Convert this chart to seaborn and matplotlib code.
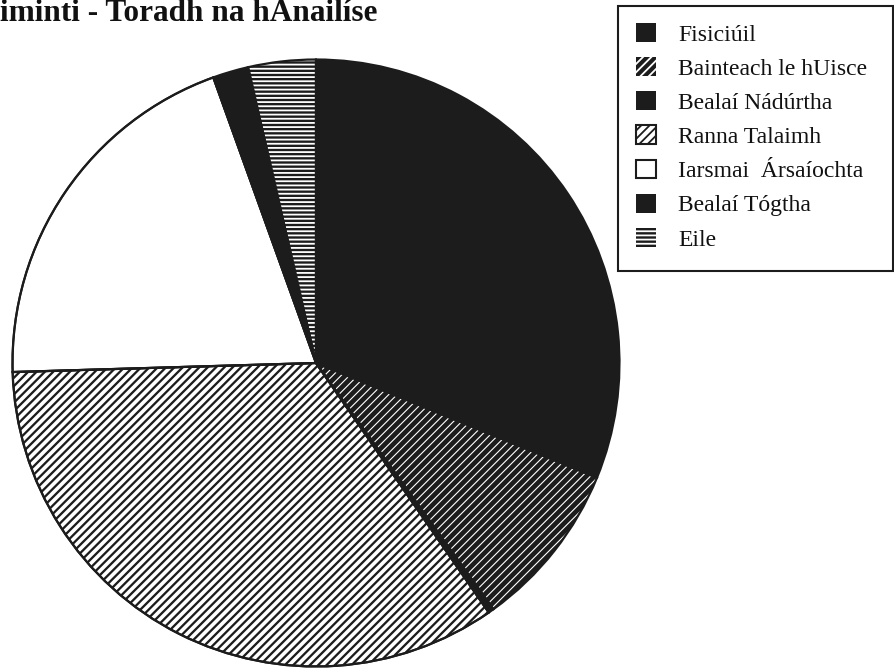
import matplotlib
matplotlib.use("Agg")
import matplotlib.pyplot as plt
import seaborn as sns
from matplotlib.patches import Rectangle

sns.set_theme(style="white")
plt.rcParams["font.family"] = ["Liberation Serif", "DejaVu Serif"]
plt.rcParams["hatch.linewidth"] = 1.3

# Share of each category (%)
categories = [
    "Fisiciúil",
    "Bainteach le hUisce",
    "Bealaí Nádúrtha",
    "Ranna Talaimh",
    "Iarsmai  Ársaíochta",
    "Bealaí Tógtha",
    "Eile",
]
shares = [31.2, 8.9, 0.3, 34.2, 20.0, 1.9, 3.6]

title_text = "iminti - Toradh na hAnailíse"

DARK = "#1c1c1c"
faces = [DARK, DARK, DARK, "white", "white", DARK, DARK]
hatch_colors = [DARK, "white", "#555555", DARK, DARK, DARK, "white"]
hatches = [None, "////", None, "////", None, None, "----"]
hatch_widths = [1.0, 0.8, 1.0, 1.65, 1.0, 1.0, 1.3]

W, H = 894, 668
fig = plt.figure(figsize=(W / 100, H / 100), dpi=100)

# Pie placement in pixels
cx, cy, r = 316, 363, 305
ax = fig.add_axes([(cx - r) / W, (H - cy - r) / H, 2 * r / W, 2 * r / H])

wedges, _ = ax.pie(
    shares,
    startangle=90,
    counterclock=False,
    radius=1.0,
    wedgeprops=dict(linewidth=0),
)
for w, fc, hc, h, hw in zip(wedges, faces, hatch_colors, hatches, hatch_widths):
    w.set_facecolor(fc)
    w.set_edgecolor(hc)
    if h:
        w.set_hatch(h)
        if hasattr(w, "set_hatch_linewidth"):
            w.set_hatch_linewidth(hw)
    if fc == "white":
        w.set_linewidth(1.5)
        w.set_edgecolor(DARK)

# Outline pass for all wedge borders
ax.pie(
    shares,
    startangle=90,
    counterclock=False,
    radius=1.0,
    wedgeprops=dict(fill=False, edgecolor=DARK, linewidth=1.6),
)
ax.set_xlim(-1.005, 1.005)
ax.set_ylim(-1.005, 1.005)
ax.set_aspect("equal")
ax.axis("off")

# Title in the top-left corner
fig.text(0, 1 - 21 / H, title_text, fontsize=22.5, fontweight="bold",
         ha="left", va="baseline", color="#111111")

# Legend
leg = fig.legend(
    wedges,
    categories,
    loc="upper left",
    bbox_to_anchor=(636 / W, 1 - 23 / H),
    frameon=False,
    fontsize=17,
    handlelength=0.85,
    handleheight=0.85,
    handletextpad=0.93,
    labelspacing=0.49,
    borderpad=0,
    borderaxespad=0,
)
for t in leg.get_texts():
    t.set_color("#111111")

fig.patches.append(
    Rectangle((618 / W, 1 - 271 / H), (893 - 618) / W, (271 - 6) / H,
              transform=fig.transFigure, fill=False, edgecolor=DARK,
              linewidth=1.5)
)

fig.savefig("out.png", dpi=100)
